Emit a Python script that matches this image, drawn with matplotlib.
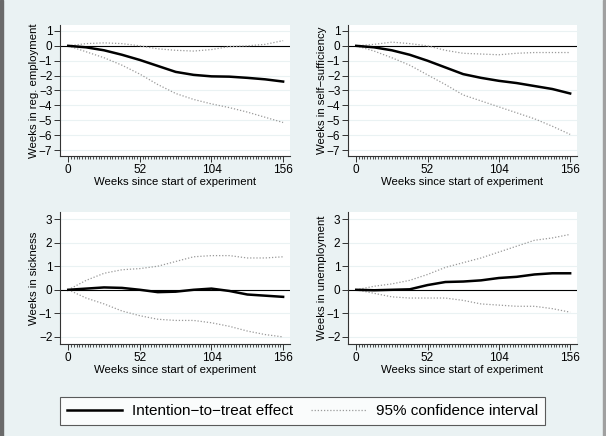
import numpy as np
import matplotlib
matplotlib.use("Agg")
from matplotlib import pyplot as plt
from matplotlib.patches import Rectangle

plt.rcParams['font.family'] = ['Liberation Sans', 'DejaVu Sans']

weeks = [0, 13, 26, 39, 52, 65, 78, 91, 104, 117, 130, 143, 156]

# weeks in regular employment
emp_itt = [0, -0.1, -0.3, -0.6, -0.95, -1.35, -1.75, -1.95, -2.05, -2.07, -2.15, -2.25, -2.4]
emp_hi = [0, 0.15, 0.2, 0.15, 0.0, -0.2, -0.3, -0.35, -0.25, -0.05, 0.0, 0.1, 0.35]
emp_lo = [0, -0.4, -0.8, -1.3, -1.9, -2.6, -3.2, -3.6, -3.9, -4.15, -4.45, -4.8, -5.15]

# weeks in self-sufficiency
ss_itt = [0, -0.1, -0.3, -0.6, -1.0, -1.45, -1.9, -2.15, -2.35, -2.5, -2.7, -2.9, -3.2]
ss_hi = [0, 0.1, 0.25, 0.15, 0.0, -0.3, -0.5, -0.55, -0.6, -0.5, -0.45, -0.45, -0.45]
ss_lo = [0, -0.35, -0.8, -1.3, -1.95, -2.6, -3.3, -3.7, -4.1, -4.5, -4.9, -5.4, -5.95]

# weeks in sickness
sick_itt = [0, 0.05, 0.1, 0.08, 0.0, -0.1, -0.08, 0.0, 0.05, -0.05, -0.2, -0.25, -0.3]
sick_hi = [0, 0.4, 0.7, 0.85, 0.9, 1.0, 1.2, 1.4, 1.45, 1.45, 1.35, 1.35, 1.4]
sick_lo = [0, -0.35, -0.6, -0.9, -1.1, -1.25, -1.3, -1.3, -1.4, -1.55, -1.75, -1.9, -2.0]

# weeks in unemployment
unemp_itt = [0, -0.02, 0.0, 0.02, 0.2, 0.33, 0.35, 0.4, 0.5, 0.55, 0.65, 0.7, 0.7]
unemp_hi = [0, 0.15, 0.25, 0.4, 0.65, 0.95, 1.15, 1.35, 1.6, 1.85, 2.1, 2.2, 2.35]
unemp_lo = [0, -0.15, -0.3, -0.35, -0.35, -0.35, -0.45, -0.6, -0.65, -0.7, -0.7, -0.8, -0.95]

panels = [
    ('Weeks in reg. employment', emp_itt, emp_hi, emp_lo, range(-7, 2), (-7.4, 1.4)),
    ('Weeks in self\u2212sufficiency', ss_itt, ss_hi, ss_lo, range(-7, 2), (-7.4, 1.4)),
    ('Weeks in sickness', sick_itt, sick_hi, sick_lo, range(-2, 4), (-2.3, 3.3)),
    ('Weeks in unemployment', unemp_itt, unemp_hi, unemp_lo, range(-2, 4), (-2.3, 3.3)),
]

bg = '#EAF2F3'
ci_col = '#9a9a9a'
fig = plt.figure(figsize=(6.06, 4.36), dpi=100, facecolor=bg)

W, H = 606, 436
boxes = [(60, 25, 290, 156), (348, 25, 577, 156), (60, 212, 290, 344), (348, 212, 577, 344)]

for (label, itt, hi, lo, yt, ylim), (x0, y0, x1, y1) in zip(panels, boxes):
    ax = fig.add_axes([x0 / W, 1 - y1 / H, (x1 - x0) / W, (y1 - y0) / H])
    ax.set_facecolor('white')
    ax.set_xlim(-6, 161)
    ax.set_ylim(*ylim)
    ax.set_yticks(list(yt))
    ax.set_yticklabels([str(v).replace('-', '\u2212') for v in yt])
    ax.set_xticks([0, 52, 104, 156])
    ax.set_xticks(np.arange(0, 157, 2), minor=True)
    ax.grid(axis='y', color=bg, lw=0.8)
    ax.set_axisbelow(True)
    ax.axhline(0, color='black', lw=0.8, zorder=2)
    ax.plot(weeks, hi, color=ci_col, lw=0.9, ls=(0, (1, 1.5)), zorder=3)
    ax.plot(weeks, lo, color=ci_col, lw=0.9, ls=(0, (1, 1.5)), zorder=3)
    ax.plot(weeks, itt, color='black', lw=1.8, zorder=4)
    for s in ['top', 'right']:
        ax.spines[s].set_visible(False)
    for s in ['left', 'bottom']:
        ax.spines[s].set_color('#333333')
        ax.spines[s].set_linewidth(0.8)
    ax.tick_params(axis='both', which='major', labelsize=8.5, length=4, width=0.7, color='#333333', pad=1.5)
    ax.tick_params(axis='x', which='minor', length=2, width=0.6, color='#333333')
    ax.set_xlabel('Weeks since start of experiment', fontsize=8.2, labelpad=1)
    ax.set_ylabel(label, fontsize=8.2, labelpad=0)

handles = [plt.Line2D([], [], color='black', lw=1.8),
           plt.Line2D([], [], color=ci_col, lw=0.9, ls=(0, (1, 1.5)))]
leg = fig.legend(handles, ['Intention\u2212to\u2212treat effect', '95% confidence interval'],
                 loc='center', ncol=2, fontsize=11,
                 bbox_to_anchor=(0.5 * (60 + 545) / W, 1 - 411 / H),
                 frameon=True, fancybox=False, edgecolor='#333333',
                 handlelength=3.6, handletextpad=0.65, columnspacing=1.2,
                 borderpad=0.45, borderaxespad=0)
leg.get_frame().set_linewidth(0.8)

fig.patches.append(Rectangle((0, 0), 3 / W, 1, transform=fig.transFigure, color='#6a6a6a'))
fig.patches.append(Rectangle((1 - 3 / W, 0), 3 / W, 1, transform=fig.transFigure, color='#a0a0a0'))

fig.savefig('out.png', dpi=100, facecolor=bg)
